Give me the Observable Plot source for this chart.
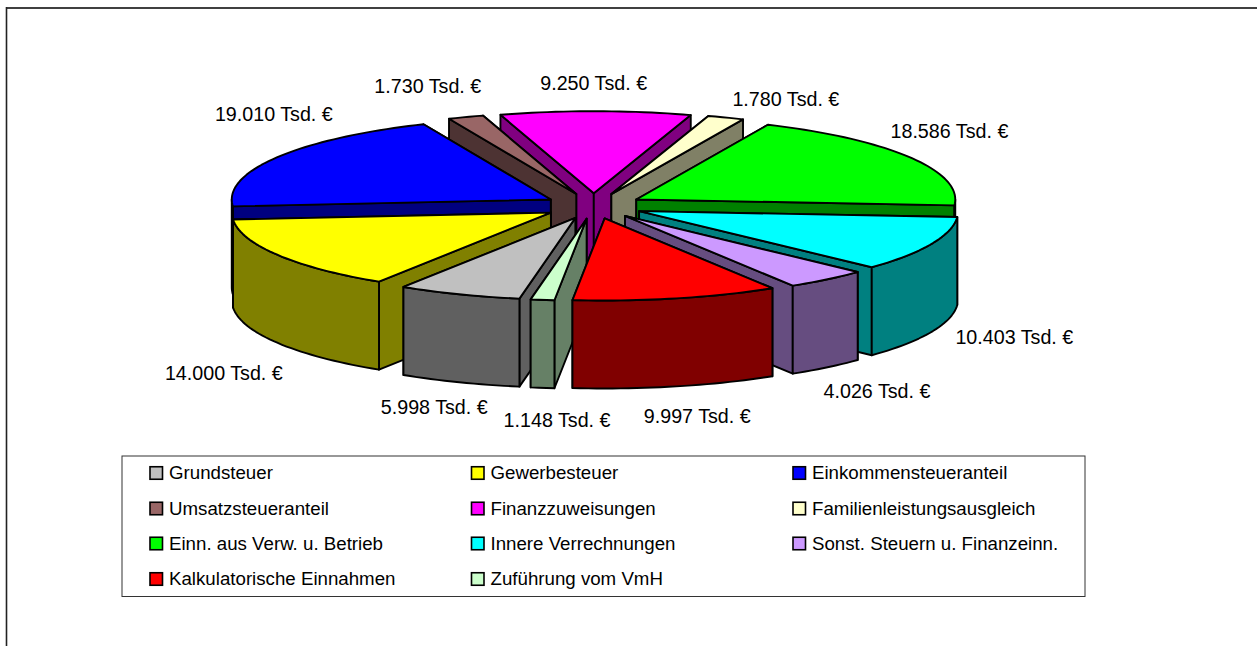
<!DOCTYPE html>
<html>
<head>
<meta charset="utf-8">
<script src="https://cdn.jsdelivr.net/npm/d3@7"></script>
<script src="https://cdn.jsdelivr.net/npm/@observablehq/plot@0.6"></script>
<style>html,body{margin:0;padding:0;background:#fff}svg{display:block}</style>
</head>
<body>
<div id="chart"></div>
<script>
const categories = ["Grundsteuer","Gewerbesteuer","Einkommensteueranteil","Umsatzsteueranteil","Finanzzuweisungen","Familienleistungsausgleich","Einn. aus Verw. u. Betrieb","Innere Verrechnungen","Sonst. Steuern u. Finanzeinn.","Kalkulatorische Einnahmen","Zuführung vom VmH"];
const values = [5998,14000,19010,1730,9250,1780,18586,10403,4026,9997,1148];
const topColors = ["#c0c0c0","#ffff00","#0000ff","#996666","#ff00ff","#ffffcc","#00ff00","#00ffff","#cc99ff","#ff0000","#ccffcc"];
const labelNudgeX = [-25,-54,-3,-38,-2,60,39,83,50,21,14.5];
const labelNudgeY = [25,31,-43,-30,-28,-18,-26,6,24,30,33];

// Pie projection
const W = 1257, H = 646;
const cx = 593, cy = 205.5, R = 319, r = 82, depth = 88, explode = 0.156, startDeg = 190.1;
const rad = Math.PI / 180;
const total = d3.sum(values);
const side = c => { const k = d3.rgb(c); return d3.rgb(k.r / 2, k.g / 2, k.b / 2).formatHex(); };
const fmt = d3.formatLocale({decimal: ",", thousands: ".", grouping: [3], currency: ["", ""]}).format(",d");

let acc = startDeg;
const slices = values.map((v, i) => {
  const a0 = acc % 360, a1 = a0 + v / total * 360; acc = a1;
  const m = (a0 + a1) / 2;
  const ax = cx + explode * R * Math.sin(m * rad), ay = cy - explode * r * Math.cos(m * rad);
  return {i, a0, a1, m, ax, ay};
});
const rimPt = (s, a) => [s.ax + R * Math.sin(a * rad), s.ay - r * Math.cos(a * rad)];
const arc = (s, a0, a1) => {
  const n = Math.max(2, Math.ceil((a1 - a0) / 1.5)), pts = [];
  for (let k = 0; k <= n; k++) pts.push(rimPt(s, a0 + (a1 - a0) * k / n));
  return pts;
};
const poly = (pts, fill) => Plot.line([...pts, pts[0]], {x: d => d[0], y: d => d[1], fill, stroke: "#000", strokeWidth: 1.9, strokeLinejoin: "round"});
const drop = pts => pts.map(([x, y]) => [x, y + depth]);

const marks = [];
marks.push(Plot.ruleY([7.5], {x1: 6, x2: W, stroke: "#000", strokeWidth: 1.4}));
marks.push(Plot.ruleX([6], {y1: 7, y2: H, stroke: "#222", strokeWidth: 1.6}));

// Back to front: slice apex further up the page paints first; ties go to the slice nearest the front axis
[...slices].sort((p, q) => Math.round(p.ay) - Math.round(q.ay) || Math.abs(Math.sin(p.m * rad)) - Math.abs(Math.sin(q.m * rad))).forEach(s => {
  const dark = side(topColors[s.i]);
  const walls = [s.a0, s.a1].map(a => ({a, p: rimPt(s, a)})).sort((u, v) => u.p[1] - v.p[1]);
  walls.forEach(w => {
    const edge = [[s.ax, s.ay], w.p];
    marks.push(poly([...edge, ...drop(edge).reverse()], dark));
  });
  // outer wall: only the part of the rim that faces the viewer
  const f0 = Math.max(s.a0, 90), f1 = Math.min(s.a1, 270);
  if (f1 > f0) {
    const e = arc(s, f0, f1);
    marks.push(poly([...e, ...drop(e).reverse()], dark));
  }
  marks.push(poly([[s.ax, s.ay], ...arc(s, s.a0, s.a1)], topColors[s.i]));
});

// Value labels hang off the slice's rim
const labels = slices.map(s => {
  const sn = Math.sin(s.m * rad), cs = Math.cos(s.m * rad);
  return {
    x: cx + (1 + explode) * R * sn + labelNudgeX[s.i],
    y: cy - (1 + explode) * r * cs + (cs < 0 ? depth : 0) + labelNudgeY[s.i],
    text: fmt(values[s.i]) + " Tsd. €"
  };
});
marks.push(Plot.text(labels, {x: "x", y: "y", text: "text", fontSize: 19.7, fontFamily: "Liberation Sans", fill: "#000", textAnchor: "middle", lineAnchor: "middle"}));

// Legend
const legendBox = {x1: 122, y1: 456, x2: 1085, y2: 596.5};
const legendCols = [150, 471.5, 793], legendRows = [473, 508.5, 543.5, 579], sw = 12.5;
marks.push(Plot.rect([legendBox], {x1: "x1", x2: "x2", y1: "y1", y2: "y2", fill: "#fff", stroke: "#333", strokeWidth: 1}));
const legend = categories.map((name, i) => ({
  name, color: topColors[i],
  x: legendCols[i % 3], y: legendRows[Math.floor(i / 3)]
}));
marks.push(Plot.rect(legend, {x1: d => d.x, x2: d => d.x + sw, y1: d => d.y - sw / 2, y2: d => d.y + sw / 2, fill: "color", stroke: "#000", strokeWidth: 1.6}));
marks.push(Plot.text(legend, {x: d => d.x + 18.5, y: "y", text: "name", fontSize: 18.7, fontFamily: "Liberation Sans", fill: "#000", textAnchor: "start", lineAnchor: "middle"}));

const chart = Plot.plot({
  width: W, height: H,
  marginTop: 0, marginRight: 0, marginBottom: 0, marginLeft: 0,
  x: {domain: [0, W], range: [0, W], axis: null},
  y: {domain: [0, H], range: [0, H], axis: null},
  style: {background: "#fff", overflow: "visible"},
  marks
});
document.getElementById("chart").append(chart);
</script>
</body>
</html>
